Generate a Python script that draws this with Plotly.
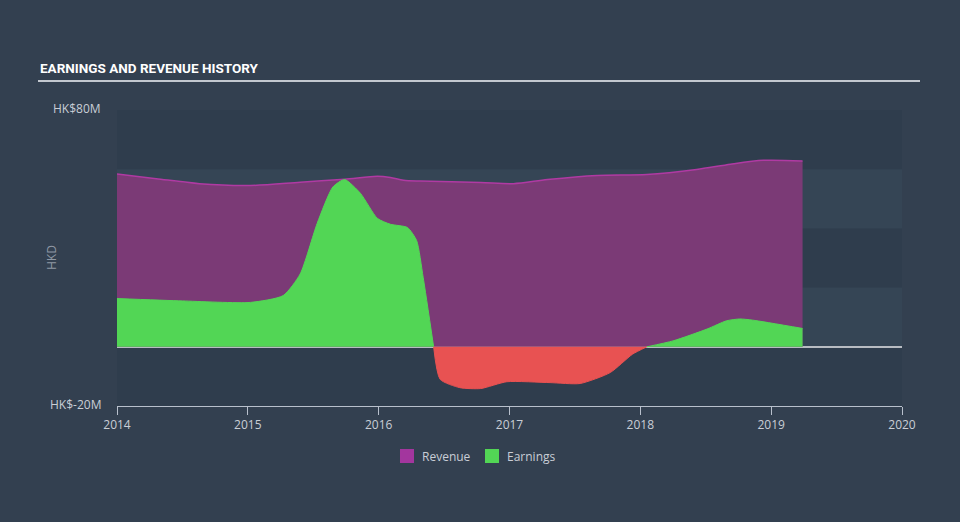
import plotly.graph_objects as go

# ---------------- data ----------------
rev_x = [2014.0, 2014.3, 2014.63, 2015.02, 2015.4, 2015.74, 2015.99, 2016.09, 2016.19,
         2016.32, 2016.78, 2017.03, 2017.29, 2017.67, 2018.05, 2018.43, 2018.69, 2018.94, 2019.24]
rev_y = [58.4, 56.8, 55.1, 54.5, 55.6, 56.6, 57.6, 57.2, 56.3,
         56.0, 55.5, 55.1, 56.5, 57.9, 58.2, 59.9, 61.7, 63.0, 62.8]

earn_x = [2014.0, 2014.5, 2015.02, 2015.27, 2015.40, 2015.53, 2015.65, 2015.74, 2015.86,
          2015.99, 2016.09, 2016.22, 2016.29, 2016.34, 2016.42, 2016.47, 2016.62, 2016.78,
          2016.98, 2017.31, 2017.54, 2017.77, 2017.94, 2018.05, 2018.25, 2018.51, 2018.66,
          2018.76, 2018.86, 2019.24]
earn_y = [16.3, 15.5, 15.0, 17.3, 24.6, 41.7, 54.0, 56.5, 51.9,
          43.4, 41.4, 40.3, 35.9, 23.5, 0.0, -11.0, -13.8, -14.1,
          -11.8, -12.1, -12.4, -8.7, -2.5, 0.0, 2.0, 6.0, 8.8,
          9.4, 9.0, 6.2]

x_ticks = [2014, 2015, 2016, 2017, 2018, 2019, 2020]
y_min, y_max = -20, 80
y_labels = {80: "HK$80M", -20: "HK$-20M"}
legend_names = ["Revenue", "Earnings"]

# ---------------- styles ----------------
PAGE_BG = "#334050"
BAND_DARK = "#2f3d4d"
BAND_LIGHT = "#354555"
REV_FILL = "#7b3a76"
REV_LINE = "#b03aa3"
REV_SWATCH = "#a3369e"
GREEN = "#52d655"
RED = "#e85252"
TEXT = "#c9ced6"

L, R, T, B = 117, 902, 110, 406
PW, PH = R - L, B - T

def px_x(p):
    return (p - L) / PW

def px_y(p):
    return (B - p) / PH

fig = go.Figure()

fig.add_trace(go.Scatter(
    x=rev_x, y=rev_y, name="Revenue", mode="lines",
    line=dict(color=REV_LINE, width=1.5, shape="spline", smoothing=0.8),
    fill="tozeroy", fillcolor=REV_FILL, showlegend=False,
))

# split earnings into positive / negative runs at zero crossings
segments = []
cur = [0]
for i in range(1, len(earn_y)):
    cur.append(i)
    if earn_y[i] == 0 and i != len(earn_y) - 1:
        segments.append(cur)
        cur = [i]
segments.append(cur)

for seg in segments:
    xs = [earn_x[i] for i in seg]
    ys = [earn_y[i] for i in seg]
    col = GREEN if sum(ys) >= 0 else RED
    fig.add_trace(go.Scatter(
        x=xs, y=ys, name="Earnings", mode="lines",
        line=dict(color=col, width=1, shape="spline", smoothing=0.6),
        fill="tozeroy", fillcolor=col, showlegend=False,
    ))

def py(v):
    return (v - y_min) / (y_max - y_min)

shapes = []
for lo, hi in [(0, 20), (40, 60)]:
    shapes.append(dict(type="rect", xref="paper", yref="y", x0=0, x1=1, y0=lo, y1=hi,
                       fillcolor=BAND_LIGHT, line=dict(width=0), layer="below"))
# title underline
shapes.append(dict(type="line", xref="paper", yref="paper",
                   x0=px_x(38), x1=px_x(920), y0=px_y(81), y1=px_y(81),
                   line=dict(color="#c3c8cf", width=2)))

annotations = [
    dict(text="<b>EARNINGS AND REVENUE HISTORY</b>", xref="paper", yref="paper",
         x=px_x(38), y=px_y(68), xanchor="left", yanchor="middle",
         showarrow=False,
         font=dict(family="Roboto", size=13.5, color="#ffffff")),
    dict(text="HKD", xref="paper", yref="paper", x=px_x(51), y=py(30), textangle=-90,
         xanchor="center", yanchor="middle", showarrow=False,
         font=dict(family="Open Sans", size=12, color="#8f98a4")),
]
for v, t in y_labels.items():
    annotations.append(dict(text=t, xref="paper", yref="paper", x=px_x(103),
                            y=py(v) + 0.006, xanchor="right", yanchor="middle",
                            showarrow=False,
                            font=dict(family="Open Sans", size=12, color=TEXT)))

# manual legend
for name, col, sx in zip(legend_names, [REV_SWATCH, GREEN], [400, 485]):
    shapes.append(dict(type="rect", xref="paper", yref="paper",
                       x0=px_x(sx), x1=px_x(sx + 14), y0=px_y(463), y1=px_y(449),
                       fillcolor=col, line=dict(width=0)))
    annotations.append(dict(text=name, xref="paper", yref="paper", x=px_x(sx + 20),
                            y=px_y(456), xanchor="left", yanchor="middle", showarrow=False,
                            font=dict(family="Open Sans", size=12, color=TEXT)))

fig.update_layout(
    width=960, height=522,
    margin=dict(l=L, r=960 - R, t=T, b=522 - B),
    paper_bgcolor=PAGE_BG, plot_bgcolor=BAND_DARK,
    showlegend=False,
    xaxis=dict(range=[2014, 2020], tickvals=x_ticks, ticktext=[str(v) for v in x_ticks],
               showgrid=False, zeroline=False, showline=True, linecolor="#b8c0cc",
               linewidth=1, ticks="outside", ticklen=8, tickcolor="#b8c0cc",
               tickfont=dict(family="Open Sans", size=12, color=TEXT)),
    yaxis=dict(range=[y_min, y_max], showgrid=False, showticklabels=False,
               zeroline=True, zerolinecolor="#b8bcc2", zerolinewidth=1.5),
    shapes=shapes, annotations=annotations,
)

fig.write_html("out.html")
